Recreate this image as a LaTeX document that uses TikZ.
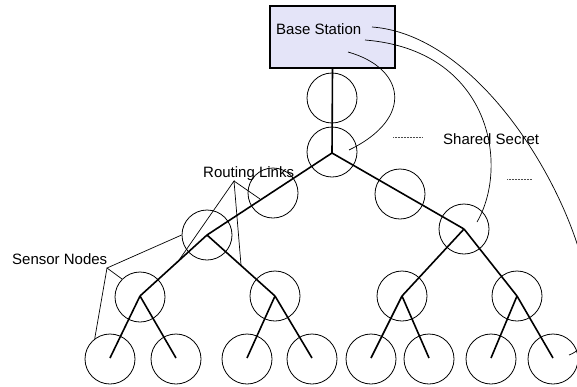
\documentclass[tikz,border=0pt]{standalone}
\usepackage{fontspec}
\setmainfont{Liberation Sans}
\begin{document}
\begin{tikzpicture}[x=1pt,y=-1pt,
  sensor/.style={circle,draw,line width=0.8pt,minimum size=50pt,inner sep=0pt},
  tree/.style={line width=1.6pt},
  thin/.style={line width=0.7pt},
  lbl/.style={font=\fontsize{15}{17}\selectfont,inner sep=0pt,anchor=base west},
  dots/.style={line width=0.5pt,dash pattern=on 0.5pt off 1pt,black!70}]
\useasboundingbox (0,0) rectangle (577,386);
\clip (0,0) rectangle (577,386);
\definecolor{bsfill}{HTML}{E4E4F8}
% base station
\node[draw,line width=1.6pt,fill=bsfill,minimum width=125pt,minimum height=62pt,inner sep=0pt] (bs) at (332.5,37) {};
\node[lbl] (bst) at (276,34.5) {Base Station};
% branch points
\coordinate (r) at (332,153);
\coordinate (l) at (207,235);
\coordinate (rr) at (464,229);
\coordinate (ll) at (140,296);
\coordinate (lr) at (275,296);
\coordinate (rl) at (402,296);
\coordinate (rrr) at (517,296);
\foreach \n/\x in {a/110,b/176,c/247,d/312,e/371,f/429,g/491,h/553}
  \coordinate (t\n) at (\x,358);
% circles
\node[sensor] (c1) at (332,98) {};
\node[sensor] (c2) at (332,152) {};
\node[sensor] (c3) at (273,193) {};
\node[sensor] (c4) at (400,194) {};
\node[sensor] (n1) at (207,235) {};
\node[sensor] (n2) at (464,229) {};
\node[sensor] (n3) at (140,297) {};
\node[sensor] (n4) at (275,296) {};
\node[sensor] (n5) at (402,296) {};
\node[sensor] (n6) at (517,296) {};
\foreach \n/\x in {a/110,b/176,c/247,d/312,e/371,f/429,g/491,h/553}
  \node[sensor] (leaf\n) at (\x,359) {};
% tree links
\draw[tree] (bs.south) -- (r);
\draw[tree] (r) -- (l);
\draw[tree] (r) -- (rr);
\draw[tree] (l) -- (ll);
\draw[tree] (l) -- (lr);
\draw[tree] (rr) -- (rl);
\draw[tree] (rr) -- (rrr);
\draw[tree] (ll) -- (ta);
\draw[tree] (ll) -- (tb);
\draw[tree] (lr) -- (tc);
\draw[tree] (lr) -- (td);
\draw[tree] (rl) -- (te);
\draw[tree] (rl) -- (tf);
\draw[tree] (rrr) -- (tg);
\draw[tree] (rrr) -- (th);
% labels
\node[lbl] (rlk) at (203,177) {Routing Links};
\node[lbl] (sn) at (12,264) {Sensor Nodes};
\node[lbl] (ss) at (443,144) {Shared Secret};
% routing links callouts
\coordinate (rp) at (234,181);
\coordinate (rq1) at (177,263);
\coordinate (rq2) at (241,265);
\coordinate (rq3) at (260,199);
\draw[thin] (rq1) -- (rp) -- (rq2);
\draw[thin] (rp) -- (rq3);
% sensor nodes callouts
\coordinate (sp) at (107,268);
\draw[thin] (n1.west) -- (sp) -- (n3.north west);
\draw[thin] (sp) -- (leafa.127);
% shared secret curves
\coordinate (s1) at (348,52);
\coordinate (e1) at (349,150);
\coordinate (s2) at (365,40);
\coordinate (e2) at (477,222);
\coordinate (s3) at (372,27);
\coordinate (e3) at (569,355);
\draw[thin] (s1) .. controls (405,68) and (415,118) .. (e1);
\draw[thin] (s2) .. controls (490,50) and (510,165) .. (e2);
\draw[thin] (s3) .. controls (520,38) and (640,330) .. (e3);
% dotted marks
\coordinate (d1a) at (393,137);
\coordinate (d1b) at (422,137);
\coordinate (d2a) at (507,179);
\coordinate (d2b) at (532,179);
\draw[dots] (d1a) -- (d1b);
\draw[dots] (d2a) -- (d2b);
\end{tikzpicture}
\end{document}
